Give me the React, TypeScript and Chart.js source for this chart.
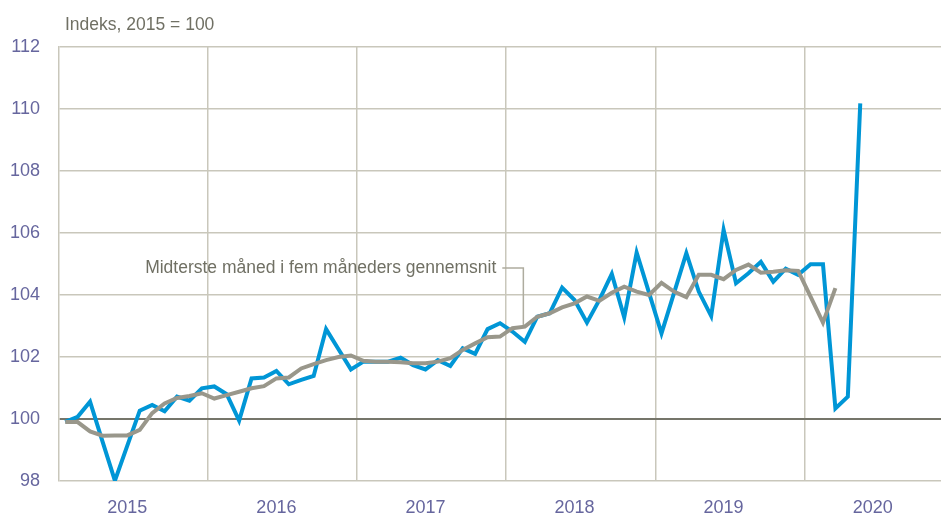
import { useEffect, useRef } from 'react';
import { Chart, registerables } from 'chart.js';

Chart.register(...registerables);

const FONT_FAMILY = '"Liberation Sans", Arial, sans-serif';

const titleText = 'Indeks, 2015 = 100';
const annotationText = 'Midterste måned i fem måneders gennemsnit';

const yearLabels = ['2015', '2016', '2017', '2018', '2019', '2020'];
const monthsPerYear = 12;
const axisMonths = 71;

const yMin = 98;
const yMax = 112;
const yStep = 2;

// Monthly index, Jan 2015 – May 2020
const indexValues = [
  99.91, 100.07, 100.56, 99.28, 98.01, 99.14, 100.27, 100.45, 100.25, 100.72, 100.59, 100.99,
  101.05, 100.8, 99.95, 101.31, 101.34, 101.55, 101.12, 101.26, 101.39, 102.9, 102.25, 101.6,
  101.85, 101.85, 101.85, 101.98, 101.74, 101.6, 101.9, 101.71, 102.28, 102.1, 102.9, 103.09,
  102.82, 102.49, 103.3, 103.41, 104.24, 103.84, 103.11, 103.84, 104.68, 103.28, 105.37, 104.07,
  102.76, 104.05, 105.35, 104.11, 103.32, 106.1, 104.38, 104.7, 105.07, 104.43, 104.85, 104.65,
  104.99, 104.99, 100.34, 100.72, 110.18,
];

// Middle month of five-month average, Jan 2015 – Mar 2020
const smoothedValues = [
  99.9, 99.9, 99.6, 99.46, 99.47, 99.47, 99.65, 100.19, 100.5, 100.68, 100.74, 100.83,
  100.66, 100.77, 100.88, 100.99, 101.06, 101.31, 101.34, 101.63, 101.77, 101.9, 102.0, 102.05,
  101.88, 101.85, 101.85, 101.83, 101.8, 101.8, 101.85, 101.96, 102.23, 102.44, 102.64, 102.66,
  102.93, 102.98, 103.3, 103.41, 103.6, 103.73, 103.95, 103.81, 104.07, 104.27, 104.11, 104.0,
  104.39, 104.11, 103.93, 104.65, 104.65, 104.51, 104.81, 104.98, 104.72, 104.75, 104.8, 104.78,
  103.95, 103.11, 104.22,
];

// Leader line of the annotation (x in months, y in index units)
const annotationTextEnd = { x: 35.2, y: 104.87 };
const annotationCorner = { x: 37.38, y: 104.87 };
const annotationTip = { x: 37.38, y: 102.95 };

const BLUE = '#0096d6';
const GRAY_LINE = '#99978b';
const GRID = '#c9c7bb';
const ZERO_LINE = '#75756a';
const TICK_COLOR = '#66669e';
const TEXT_COLOR = '#707064';

const textPlugin = {
  id: 'textPlugin',
  beforeDatasetsDraw(chart: any) {
    const { ctx, scales } = chart;
    const x = scales.x;
    const y = scales.y;
    ctx.save();
    ctx.strokeStyle = '#aeac9f';
    ctx.lineWidth = 1.5;
    ctx.beginPath();
    ctx.moveTo(x.getPixelForValue(annotationTextEnd.x) + 6, y.getPixelForValue(annotationTextEnd.y));
    ctx.lineTo(x.getPixelForValue(annotationCorner.x), y.getPixelForValue(annotationCorner.y));
    ctx.lineTo(x.getPixelForValue(annotationTip.x), y.getPixelForValue(annotationTip.y));
    ctx.stroke();
    ctx.restore();
  },
  afterDraw(chart: any) {
    const { ctx, scales } = chart;
    const x = scales.x;
    const y = scales.y;
    ctx.save();
    ctx.fillStyle = TEXT_COLOR;
    ctx.font = `17.5px ${FONT_FAMILY}`;
    ctx.textBaseline = 'middle';
    ctx.textAlign = 'left';
    ctx.fillText(titleText, 65, 25);
    ctx.textAlign = 'right';
    ctx.fillText(annotationText, x.getPixelForValue(annotationTextEnd.x), y.getPixelForValue(annotationTextEnd.y));
    ctx.restore();
  },
};

export default function App() {
  const canvasRef = useRef<HTMLCanvasElement | null>(null);

  useEffect(() => {
    if (!canvasRef.current) return;
    const boundaries = yearLabels.map((_, k) => k * monthsPerYear);
    const centers = yearLabels.map((_, k) => k * monthsPerYear + 5.5);

    const chart = new Chart(canvasRef.current, {
      type: 'line',
      data: {
        datasets: [
          {
            label: annotationText,
            data: smoothedValues.map((v, i) => ({ x: i + 0.5, y: v })),
            borderColor: GRAY_LINE,
            borderWidth: 4,
            pointRadius: 0,
            tension: 0,
            order: 0,
          },
          {
            label: 'Indeks',
            data: indexValues.map((v, i) => ({ x: i + 0.5, y: v })),
            borderColor: BLUE,
            borderWidth: 4,
            pointRadius: 0,
            tension: 0,
            order: 1,
          },
        ],
      },
      options: {
        animation: false,
        responsive: false,
        maintainAspectRatio: false,
        layout: { padding: { top: 47, right: 1, left: 0, bottom: 0 } },
        plugins: {
          legend: { display: false },
          tooltip: { enabled: false },
          title: { display: false },
        },
        scales: {
          x: {
            type: 'linear',
            min: 0,
            max: axisMonths,
            afterBuildTicks: (scale: any) => {
              const vals = [...boundaries, ...centers].sort((a, b) => a - b);
              scale.ticks = vals.map((v) => ({ value: v }));
            },
            afterFit: (scale: any) => {
              scale.height = 35;
            },
            grid: {
              drawTicks: false,
              color: (ctx: any) => {
                const v = ctx.tick ? ctx.tick.value : 0;
                return v > 0 && v % monthsPerYear === 0 ? GRID : 'rgba(0,0,0,0)';
              },
              lineWidth: 1.5,
            },
            border: { display: false },
            ticks: {
              autoSkip: false,
              maxRotation: 0,
              minRotation: 0,
              padding: 16,
              color: TICK_COLOR,
              font: { family: FONT_FAMILY, size: 18 },
              callback: (value: any) => {
                const k = (Number(value) - 5.5) / monthsPerYear;
                return Number.isInteger(k) ? yearLabels[k] : '';
              },
            },
          },
          y: {
            type: 'linear',
            min: yMin,
            max: yMax,
            afterFit: (scale: any) => {
              scale.width = 59;
            },
            grid: {
              drawTicks: false,
              color: (ctx: any) => (ctx.tick && ctx.tick.value === 100 ? ZERO_LINE : GRID),
              lineWidth: (ctx: any) => (ctx.tick && ctx.tick.value === 100 ? 2 : 1.5),
            },
            border: { display: true, color: GRID, width: 1.5 },
            ticks: {
              stepSize: yStep,
              padding: 19,
              color: TICK_COLOR,
              font: { family: FONT_FAMILY, size: 18 },
              callback: (value: any) => String(value),
            },
          },
        },
      },
      plugins: [textPlugin],
    });

    return () => chart.destroy();
  }, []);

  return (
    <div style={{ position: 'absolute', left: 0, top: 0, width: 942, height: 516, background: '#ffffff' }}>
      <canvas ref={canvasRef} width={942} height={516} style={{ display: 'block' }} />
    </div>
  );
}
